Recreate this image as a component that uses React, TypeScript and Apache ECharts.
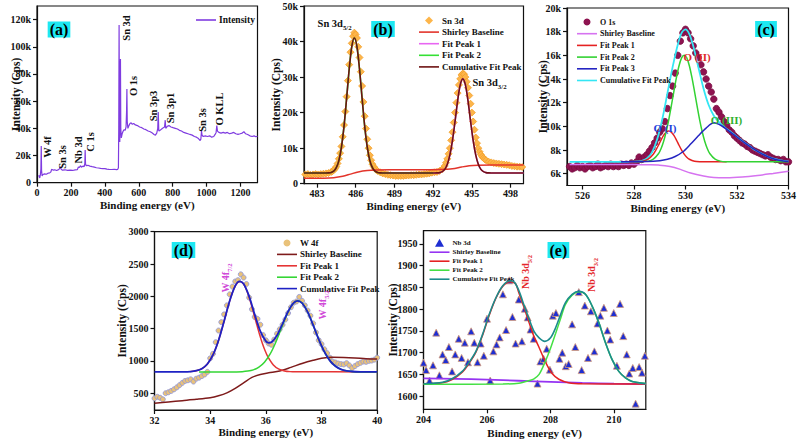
import React, { useEffect, useRef } from "react";
import * as echarts from "echarts";

const SERIF = '"Liberation Serif", "Times New Roman", Times, serif';
const INK = "#111111";

// ---------- (a) survey scan, intensity in kCps ----------
const surveyScan: [number, number][] = [
  [10, 5.5], [16, 3.5], [20, 6], [23, 10], [25, 27], [27, 9], [30, 5], [35, 6], [45, 6.5], [55, 6.2],
  [65, 7], [75, 7.2], [82, 8], [86, 9.8], [95, 9.3], [105, 9.5], [115, 9], [125, 9.4], [132, 10.2],
  [137, 11.8], [142, 10], [150, 9.2], [165, 9.5], [180, 9.1], [195, 9.3], [210, 9.0], [225, 9.4],
  [238, 9.6], [244, 11.5], [250, 11.2], [256, 12.5], [262, 11.4], [270, 12.2], [278, 11.8], [282, 14],
  [284, 24], [286, 14], [290, 12.5], [300, 12.8], [312, 12.2], [325, 11.8], [338, 11.5], [350, 11],
  [362, 10.8], [375, 10.5], [388, 10.3], [400, 10.4], [412, 10], [425, 9.8], [440, 9.7], [455, 9.9],
  [468, 9.6], [476, 9.8], [480, 11], [482, 40], [484, 116], [486, 45], [488, 30], [490, 42], [492, 91],
  [494, 40], [497, 33], [502, 36], [508, 38], [514, 39], [520, 38.5], [525, 41], [528, 52], [530, 69],
  [532, 45], [536, 40], [542, 42], [548, 43.5], [555, 44], [562, 43], [570, 43.5], [580, 42.5],
  [592, 42], [605, 41], [618, 40.5], [630, 39.5], [642, 39], [655, 38], [668, 37.5], [680, 36.5],
  [690, 35.5], [698, 35], [706, 36.5], [712, 40], [715, 52], [718, 38], [725, 38.5], [735, 39.5],
  [745, 40.5], [752, 41], [756, 46], [759, 40], [768, 41.5], [778, 42], [790, 41], [802, 40.5],
  [815, 40], [828, 39.5], [840, 38.5], [852, 38], [865, 37], [878, 36.5], [890, 36], [902, 35.5],
  [915, 35], [928, 34], [940, 33.5], [952, 32.5], [962, 31], [966, 32], [970, 38], [973, 35], [980, 34],
  [992, 34.5], [1005, 34], [1018, 34.5], [1030, 33.5], [1042, 34], [1050, 35.5], [1056, 37], [1060, 42],
  [1064, 38], [1072, 37], [1085, 36.5], [1098, 37], [1110, 36.5], [1122, 37], [1135, 36], [1148, 36.5],
  [1160, 37], [1172, 36], [1185, 35.5], [1198, 36], [1210, 36.5], [1220, 37.5], [1230, 36], [1242, 35.5],
  [1255, 34.5], [1268, 34], [1280, 34.5], [1290, 33.8], [1300, 34.2],
];
const surveyXTicks = [0, 200, 400, 600, 800, 1000, 1200];
const surveyYTicks = [0, 20, 40, 60, 80, 100, 120];

// ---------- (b) Sn 3d, kCps ----------
const sn3dPoints: [number, number][] = [
  [482.1, 2.6], [482.3, 2.7], [482.5, 2.5], [482.7, 2.6], [482.9, 2.7], [483.1, 2.6], [483.3, 2.7],
  [483.5, 2.8], [483.7, 2.9], [483.9, 3.0], [484.1, 3.3], [484.2, 3.5], [484.3, 3.8], [484.4, 4.2],
  [484.5, 4.8], [484.6, 5.7], [484.7, 7.0], [484.8, 8.6], [484.9, 10.5], [485.0, 13.2], [485.1, 16.5],
  [485.2, 20.3], [485.3, 24.5], [485.4, 29.0], [485.5, 33.5], [485.6, 37.0], [485.7, 39.5], [485.8, 41.5],
  [485.9, 42.5], [486.0, 42.0], [486.1, 41.0], [486.2, 38.5], [486.3, 35.5], [486.4, 31.5], [486.5, 27.5],
  [486.6, 23.0], [486.7, 19.0], [486.8, 15.5], [486.9, 12.5], [487.0, 10.0], [487.1, 8.0], [487.2, 6.6],
  [487.3, 5.5], [487.4, 4.8], [487.5, 4.2], [487.6, 3.9], [487.7, 3.6], [487.9, 3.2], [488.1, 2.9],
  [488.3, 2.7], [488.5, 2.5], [488.7, 2.4], [488.9, 2.3], [489.1, 2.2], [489.3, 2.2], [489.5, 2.2],
  [489.7, 2.2], [489.9, 2.3], [490.1, 2.3], [490.3, 2.4], [490.5, 2.4], [490.7, 2.5], [490.9, 2.6],
  [491.1, 2.6], [491.3, 2.7], [491.5, 2.8], [491.7, 2.9], [491.9, 3.1], [492.1, 3.2], [492.3, 3.3],
  [492.5, 3.6], [492.7, 4.0], [492.8, 4.4], [492.9, 5.0], [493.0, 5.9], [493.1, 7.0], [493.2, 8.4],
  [493.3, 10.0], [493.4, 12.2], [493.5, 14.5], [493.6, 17.2], [493.7, 20.0], [493.8, 22.8], [493.9, 25.5],
  [494.0, 27.8], [494.1, 29.5], [494.2, 30.6], [494.3, 31.0], [494.4, 30.8], [494.5, 30.0], [494.6, 28.7],
  [494.7, 27.0], [494.8, 24.8], [494.9, 22.5], [495.0, 20.0], [495.1, 17.5], [495.2, 15.2], [495.3, 13.0],
  [495.4, 11.4], [495.5, 10.0], [495.6, 9.0], [495.7, 8.2], [495.8, 7.6], [495.9, 7.2], [496.0, 6.9],
  [496.1, 6.6], [496.3, 6.2], [496.5, 6.0], [496.7, 5.8], [496.9, 5.7], [497.1, 5.6], [497.3, 5.5],
  [497.5, 5.4], [497.7, 5.3], [497.9, 5.2], [498.1, 5.0], [498.3, 4.9], [498.5, 4.8], [498.7, 4.8],
  [498.9, 4.7],
];
const sn3dShirley: [number, number][] = [
  [482, 1.5], [483.5, 1.55], [484.3, 1.7], [485, 2.1], [485.6, 2.7], [486.2, 3.3], [486.9, 3.7],
  [487.6, 3.85], [489, 3.9], [491, 3.95], [492.5, 4.0], [493.5, 4.2], [494.2, 4.7], [494.8, 5.05],
  [495.5, 5.2], [496.5, 5.25], [499, 5.25],
];
const sn3dPeak1: [number, number][] = [
  [488, 3], [492.1, 3.02], [492.3, 3.04], [492.5, 3.12], [492.7, 3.38], [492.9, 4.03], [493.1, 5.45],
  [493.3, 8.1], [493.5, 12.2], [493.7, 17.6], [493.9, 23.4], [494.1, 27.8], [494.3, 29.5], [494.5, 27.8],
  [494.7, 23.4], [494.9, 17.6], [495.1, 12.2], [495.3, 8.1], [495.5, 5.45], [495.7, 4.03], [495.9, 3.38],
  [496.1, 3.12], [496.3, 3.04], [496.5, 3.02], [499, 3],
];
const sn3dPeak2: [number, number][] = [
  [482, 3], [483.7, 3.02], [483.9, 3.05], [484.1, 3.18], [484.3, 3.55], [484.5, 4.5], [484.7, 6.5],
  [484.9, 10.3], [485.1, 16.2], [485.3, 24.0], [485.5, 32.2], [485.7, 38.6], [485.9, 41.0], [486.1, 38.6],
  [486.3, 32.2], [486.5, 24.0], [486.7, 16.2], [486.9, 10.3], [487.1, 6.5], [487.3, 4.5], [487.5, 3.55],
  [487.7, 3.18], [487.9, 3.05], [488.1, 3.02], [492, 3],
];
const sn3dCumulative: [number, number][] = [
  [482, 3], [483.7, 3.02], [483.9, 3.05], [484.1, 3.18], [484.3, 3.55], [484.5, 4.5], [484.7, 6.5],
  [484.9, 10.3], [485.1, 16.2], [485.3, 24.0], [485.5, 32.2], [485.7, 38.6], [485.9, 41.0], [486.1, 38.6],
  [486.3, 32.2], [486.5, 24.0], [486.7, 16.2], [486.9, 10.3], [487.1, 6.5], [487.3, 4.5], [487.5, 3.55],
  [487.7, 3.18], [487.9, 3.05], [488.1, 3.02], [492.1, 3.02], [492.3, 3.04], [492.5, 3.12], [492.7, 3.38],
  [492.9, 4.03], [493.1, 5.45], [493.3, 8.1], [493.5, 12.2], [493.7, 17.6], [493.9, 23.4], [494.1, 27.8],
  [494.3, 29.5], [494.5, 27.8], [494.7, 23.4], [494.9, 17.6], [495.1, 12.2], [495.3, 8.1], [495.5, 5.45],
  [495.7, 4.03], [495.9, 3.38], [496.1, 3.12], [496.3, 3.04], [496.5, 3.02], [499, 3],
];
const sn3dXTicks = [483, 486, 489, 492, 495, 498];
const sn3dYTicks = [0, 10, 20, 30, 40, 50];

// ---------- (c) O 1s, kCps ----------
const o1sPoints: [number, number][] = [
  [525.5, 6.6], [525.6, 6.4], [525.7, 6.5], [525.8, 6.7], [525.9, 6.5], [526.0, 6.6], [526.1, 6.4],
  [526.2, 6.6], [526.3, 6.7], [526.4, 6.5], [526.5, 6.6], [526.6, 6.8], [526.7, 6.5], [526.8, 6.6],
  [526.9, 6.7], [527.0, 6.6], [527.1, 6.8], [527.2, 6.6], [527.3, 6.7], [527.4, 6.6], [527.5, 6.8],
  [527.6, 6.7], [527.7, 6.8], [527.8, 6.7], [527.9, 6.9], [528.0, 6.8], [528.1, 7.0], [528.2, 7.4],
  [528.3, 7.2], [528.4, 7.4], [528.5, 7.6], [528.6, 7.9], [528.7, 8.2], [528.8, 8.6], [528.9, 9.0],
  [529.0, 9.5], [529.1, 9.8], [529.2, 10.4], [529.3, 11.5], [529.4, 12.6], [529.5, 13.4], [529.6, 14.5],
  [529.7, 16.0], [529.8, 17.2], [529.9, 17.9], [530.0, 18.2], [530.1, 17.9], [530.2, 17.4], [530.3, 16.8],
  [530.4, 16.2], [530.5, 15.8], [530.6, 15.2], [530.7, 14.6], [530.8, 14.0], [530.9, 13.4], [531.0, 12.9],
  [531.1, 12.3], [531.2, 11.5], [531.3, 11.2], [531.4, 10.8], [531.5, 10.4], [531.6, 10.1], [531.7, 9.7],
  [531.8, 9.5], [531.9, 9.2], [532.0, 9.0], [532.1, 8.8], [532.2, 8.6], [532.3, 8.5], [532.4, 8.3],
  [532.5, 8.2], [532.6, 8.0], [532.7, 7.9], [532.8, 7.8], [532.9, 7.7], [533.0, 7.6], [533.1, 7.5],
  [533.2, 7.6], [533.3, 7.4], [533.4, 7.3], [533.5, 7.2], [533.6, 7.2], [533.7, 7.1], [533.8, 7.2],
  [533.9, 7.0], [534.0, 7.0],
];
const o1sShirley: [number, number][] = [
  [525.5, 6.78], [527, 6.78], [528, 6.77], [528.5, 6.75], [529, 6.72], [529.4, 6.6], [529.8, 6.36],
  [530.2, 6.05], [530.7, 5.8], [531.1, 5.68], [531.6, 5.66], [532.2, 5.72], [532.8, 5.85], [533.4, 6.02],
  [534, 6.2],
];
const o1sPeak1: [number, number][] = [
  [527.8, 7.0], [528.15, 7.01], [528.35, 7.05], [528.55, 7.22], [528.75, 7.65], [528.85, 7.99],
  [528.95, 8.4], [529.05, 8.84], [529.15, 9.23], [529.25, 9.5], [529.35, 9.6], [529.45, 9.5],
  [529.55, 9.23], [529.65, 8.84], [529.75, 8.4], [529.85, 7.99], [529.95, 7.65], [530.05, 7.39],
  [530.15, 7.22], [530.35, 7.05], [530.55, 7.01], [531.6, 7.0],
];
const o1sPeak2: [number, number][] = [
  [528.0, 7.0], [528.55, 7.06], [528.75, 7.22], [528.95, 7.68], [529.05, 8.11], [529.15, 8.72],
  [529.25, 9.54], [529.35, 10.55], [529.45, 11.72], [529.55, 12.95], [529.65, 14.13], [529.75, 15.12],
  [529.85, 15.78], [529.95, 16.0], [530.05, 15.78], [530.15, 15.12], [530.25, 14.13], [530.35, 12.95],
  [530.45, 11.72], [530.55, 10.55], [530.65, 9.54], [530.75, 8.72], [530.85, 8.11], [530.95, 7.68],
  [531.15, 7.22], [531.35, 7.06], [531.55, 7.01], [534, 7.0],
];
const o1sPeak3: [number, number][] = [
  [527.5, 7.0], [528.5, 7.02], [529.0, 7.1], [529.3, 7.22], [529.6, 7.45], [529.9, 7.85], [530.2, 8.5],
  [530.5, 9.2], [530.8, 9.85], [531.1, 10.3], [531.4, 10.05], [531.7, 9.58], [532.0, 9.1], [532.3, 8.6],
  [532.6, 8.15], [532.9, 7.75], [533.2, 7.43], [533.5, 7.2], [533.8, 7.07], [534, 7.03],
];
const o1sCumulative: [number, number][] = [
  [525.5, 7.0], [527.5, 7.0], [528.0, 7.02], [528.3, 7.08], [528.5, 7.28], [528.7, 7.8], [528.9, 8.9],
  [529.1, 10.6], [529.3, 12.8], [529.5, 15.0], [529.7, 16.9], [529.85, 17.9], [530.0, 18.2],
  [530.15, 17.8], [530.3, 16.8], [530.5, 15.0], [530.7, 13.2], [530.9, 11.8], [531.1, 10.9],
  [531.3, 10.35], [531.5, 9.95], [531.7, 9.62], [531.9, 9.3], [532.1, 8.95], [532.3, 8.62], [532.5, 8.32],
  [532.7, 8.0], [532.9, 7.77], [533.1, 7.55], [533.3, 7.35], [533.5, 7.22], [533.7, 7.12], [534.0, 7.04],
];
const o1sXTicks = [526, 528, 530, 532, 534];
const o1sYTicks = [6, 8, 10, 12, 14, 16, 18, 20];

// ---------- (d) W 4f, Cps ----------
const w4fPoints: [number, number][] = [
  [32.0, 420], [32.1, 445], [32.2, 430], [32.3, 405], [32.4, 500], [32.5, 515], [32.6, 535], [32.7, 560],
  [32.8, 590], [32.9, 625], [33.0, 660], [33.1, 690], [33.2, 700], [33.3, 715], [33.4, 680], [33.5, 725],
  [33.6, 740], [33.7, 765], [33.8, 790], [33.9, 830], [34.0, 1040], [34.1, 1110], [34.2, 1290],
  [34.3, 1470], [34.4, 1600], [34.5, 1720], [34.6, 1860], [34.7, 2030], [34.8, 2150], [34.9, 2230],
  [35.0, 2250], [35.1, 2340], [35.2, 2290], [35.3, 2190], [35.4, 1980], [35.5, 1800], [35.6, 1680],
  [35.7, 1650], [35.8, 1560], [35.9, 1400], [36.0, 1320], [36.1, 1270], [36.2, 1250], [36.3, 1330],
  [36.4, 1420], [36.5, 1490], [36.6, 1560], [36.7, 1640], [36.8, 1740], [36.9, 1830], [37.0, 1900],
  [37.1, 1920], [37.2, 1990], [37.3, 1930], [37.4, 1860], [37.5, 1780], [37.6, 1700], [37.7, 1580],
  [37.8, 1440], [37.9, 1320], [38.0, 1260], [38.1, 1180], [38.2, 1120], [38.3, 1050], [38.4, 990],
  [38.5, 975], [38.6, 960], [38.7, 950], [38.8, 945], [38.9, 965], [39.0, 930], [39.1, 890], [39.2, 920],
  [39.3, 950], [39.4, 970], [39.5, 990], [39.6, 985], [39.7, 1000], [39.8, 1005], [39.9, 1020], [40.0, 1050],
];
const w4fShirley: [number, number][] = [
  [32, 345], [32.5, 365], [33, 385], [33.5, 405], [34, 430], [34.3, 460], [34.6, 505], [34.9, 575],
  [35.2, 660], [35.5, 745], [35.8, 790], [36.1, 815], [36.5, 845], [36.9, 900], [37.3, 960], [37.7, 1010],
  [38.0, 1040], [38.4, 1055], [38.8, 1052], [39.2, 1045], [39.6, 1035], [40, 1030],
];
const w4fPeak1: [number, number][] = [
  [33.27, 834], [33.47, 845], [33.67, 872], [33.87, 938], [34.07, 1067], [34.17, 1162], [34.27, 1278],
  [34.37, 1415], [34.47, 1568], [34.57, 1727], [34.67, 1883], [34.77, 2023], [34.87, 2133], [34.97, 2205],
  [35.07, 2230], [35.17, 2205], [35.27, 2133], [35.37, 2023], [35.47, 1883], [35.57, 1727], [35.67, 1568],
  [35.77, 1415], [35.87, 1278], [35.97, 1162], [36.07, 1067], [36.27, 938], [36.47, 872], [36.67, 845],
  [36.87, 834], [37.07, 831], [40, 830],
];
const w4fPeak2: [number, number][] = [
  [33.6, 830], [34.75, 830], [35.15, 834], [35.35, 842], [35.55, 861], [35.75, 903], [35.95, 979],
  [36.15, 1104], [36.35, 1282], [36.55, 1498], [36.75, 1711], [36.95, 1871], [37.15, 1930], [37.35, 1871],
  [37.55, 1711], [37.75, 1498], [37.95, 1282], [38.15, 1104], [38.35, 979], [38.55, 903], [38.75, 861],
  [38.95, 842], [39.15, 834], [39.55, 830], [40, 830],
];
const w4fCumulative: [number, number][] = [
  [32, 830], [33.0, 831], [33.3, 835], [33.5, 848], [33.7, 880], [33.9, 952], [34.1, 1092], [34.3, 1317],
  [34.5, 1615], [34.7, 1927], [34.9, 2160], [35.05, 2232], [35.2, 2194], [35.4, 1999], [35.6, 1718],
  [35.8, 1461], [36.0, 1306], [36.1, 1280], [36.2, 1288], [36.4, 1394], [36.6, 1575], [36.8, 1765],
  [37.0, 1898], [37.15, 1930], [37.3, 1896], [37.5, 1758], [37.7, 1553], [37.9, 1334], [38.1, 1144],
  [38.3, 1005], [38.5, 918], [38.7, 869], [38.9, 846], [39.1, 836], [39.4, 831], [40, 830],
];
const w4fXTicks = [32, 34, 36, 38, 40];
const w4fYTicks = [500, 1000, 1500, 2000, 2500, 3000];

// ---------- (e) Nb 3d, Cps ----------
const nb3dPoints: [number, number][] = [
  [204.0, 1677], [204.08, 1660], [204.19, 1636], [204.3, 1671], [204.4, 1746], [204.5, 1648],
  [204.6, 1696], [204.7, 1683], [204.8, 1713], [204.9, 1657], [205.0, 1696], [205.11, 1732],
  [205.2, 1688], [205.3, 1723], [205.4, 1678], [205.5, 1749], [205.6, 1723], [205.7, 1678],
  [205.8, 1721], [205.9, 1693], [206.0, 1778], [206.1, 1636], [206.2, 1703], [206.3, 1719],
  [206.4, 1735], [206.5, 1834], [206.6, 1752], [206.7, 1866], [206.8, 1782], [206.9, 1721],
  [207.0, 1822], [207.1, 1726], [207.19, 1801], [207.28, 1781], [207.37, 1753], [207.47, 1732],
  [207.59, 1629], [207.68, 1680], [207.78, 1686], [207.88, 1709], [207.98, 1661], [208.07, 1785],
  [208.17, 1791], [208.28, 1686], [208.37, 1700], [208.48, 1669], [208.57, 1674], [208.68, 1765],
  [208.78, 1713], [208.89, 1839], [208.98, 1660], [209.08, 1808], [209.18, 1688], [209.27, 1795],
  [209.38, 1703], [209.48, 1767], [209.57, 1785], [209.68, 1803], [209.79, 1751], [209.88, 1730],
  [209.99, 1791], [210.09, 1670], [210.19, 1812], [210.29, 1738], [210.4, 1696], [210.48, 1652],
  [210.59, 1665], [210.68, 1583], [210.79, 1667], [210.88, 1654], [210.97, 1693],
];
const nb3dShirley: [number, number][] = [
  [204, 1641], [205, 1640], [206, 1638], [207, 1635.5], [208, 1633], [209, 1630.5], [210, 1629], [211, 1628],
];
const nb3dPeak1: [number, number][] = [
  [204, 1628], [204.6, 1631], [204.9, 1638], [205.22, 1655], [205.43, 1675], [205.65, 1701],
  [205.86, 1740], [206.07, 1786], [206.28, 1825], [206.49, 1852], [206.72, 1863], [206.9, 1858],
  [207.0, 1838], [207.17, 1803], [207.33, 1768], [207.48, 1737], [207.64, 1712], [207.85, 1677],
  [208.05, 1652], [208.26, 1639], [208.57, 1631], [209, 1628.5], [211, 1628],
];
const nb3dPeak2: [number, number][] = [
  [204, 1627.5], [206.5, 1628], [207.0, 1630], [207.33, 1636], [207.48, 1640], [207.64, 1650],
  [207.82, 1677], [208.0, 1710], [208.16, 1744], [208.32, 1779], [208.47, 1811], [208.68, 1832],
  [208.89, 1840], [209.1, 1834], [209.31, 1807], [209.52, 1769], [209.73, 1723], [209.94, 1684],
  [210.15, 1657], [210.36, 1642], [210.57, 1634], [211, 1629],
];
const nb3dCumulative: [number, number][] = [
  [204, 1628.5], [204.6, 1632], [204.9, 1640], [205.22, 1657], [205.43, 1677], [205.65, 1703],
  [205.86, 1742], [206.07, 1788], [206.28, 1826], [206.49, 1853], [206.72, 1865], [206.86, 1862],
  [207.0, 1843], [207.17, 1808], [207.33, 1776], [207.48, 1749], [207.64, 1734], [207.82, 1726],
  [208.0, 1734], [208.16, 1757], [208.32, 1788], [208.47, 1815], [208.68, 1834], [208.89, 1841],
  [209.1, 1834], [209.31, 1807], [209.52, 1769], [209.73, 1723], [209.94, 1684], [210.15, 1657],
  [210.36, 1642], [210.57, 1634], [211, 1629],
];
const nb3dXTicks = [204, 206, 208, 210];
const nb3dYTicks = [1600, 1650, 1700, 1750, 1800, 1850, 1900, 1950];

// ---------- helpers ----------
const kLabel = (v: number) => (v === 0 ? "0" : `${v}k`);
const plainLabel = (v: number) => `${v}`;
const legendText = (name: string) => name.split("@")[0];

// Legend glyphs drawn in a 20x8 box: a thin bar for fitted curves, small centred markers for measured points
const ICON_LINE = "path://M0,3.2 H20 V4.8 H0 Z";
const ICON_DIAMOND = "path://M0,4 M20,4 M10,0 L14,4 L10,8 L6,4 Z";
const ICON_CIRCLE = "path://M0,4 M20,4 M10,0.5 A3.5,3.5 0 1,1 9.99,0.5 Z";
const ICON_TRIANGLE = "path://M0,4 M20,4 M10,0 L14.5,8 L5.5,8 Z";

const axisText = { fontFamily: SERIF, fontWeight: "bold" as const, color: INK };

function xAxis(i: number, min: number, max: number, ticks: number[], nameGap: number) {
  return {
    type: "value", gridIndex: i, min, max,
    name: "Binding energy (eV)", nameLocation: "middle", nameGap, nameMoveOverlap: false,
    nameTextStyle: { ...axisText, fontSize: 11 },
    axisLine: { show: true, onZero: false, lineStyle: { color: INK, width: 1.2 } },
    axisTick: { show: true, inside: false, length: 4, customValues: ticks, lineStyle: { color: INK, width: 1.2 } },
    axisLabel: { customValues: ticks, ...axisText, fontSize: 10, margin: 5, formatter: plainLabel },
    splitLine: { show: false },
  };
}

function yAxis(i: number, min: number, max: number, ticks: number[], fmt: (v: number) => string, nameGap: number) {
  return {
    type: "value", gridIndex: i, min, max,
    name: "Intensity (Cps)", nameLocation: "middle", nameGap, nameMoveOverlap: false,
    nameTextStyle: { ...axisText, fontSize: 11.5 },
    axisLine: { show: true, onZero: false, lineStyle: { color: INK, width: 1.2 } },
    axisTick: { show: true, inside: false, length: 4, customValues: ticks, lineStyle: { color: INK, width: 1.2 } },
    axisLabel: { customValues: ticks, ...axisText, fontSize: 10, margin: 6, formatter: fmt },
    splitLine: { show: false },
  };
}

function line(name: string, data: [number, number][], color: string, width: number, i: number, z: number, smooth: number | boolean = 0.3) {
  return {
    type: "line", name, data, xAxisIndex: i, yAxisIndex: i, symbol: "none", smooth,
    lineStyle: { color, width }, itemStyle: { color }, z, silent: true,
  };
}

function dots(name: string, data: [number, number][], symbol: string, size: number, color: string, border: string, i: number) {
  return {
    type: "scatter", name, data, xAxisIndex: i, yAxisIndex: i, symbol, symbolSize: size,
    itemStyle: { color, borderColor: border, borderWidth: 0.8, opacity: 1 }, z: 2, silent: true,
  };
}

function legend(items: { name: string; icon: string }[], left: number, top: number, fontSize: number, itemGap: number) {
  return {
    orient: "vertical", left, top, itemWidth: 20, itemHeight: 8, itemGap,
    selectedMode: false, data: items, formatter: legendText,
    itemStyle: { borderWidth: 0 },
    textStyle: { ...axisText, fontSize, padding: [0, 0, 0, -2] },
  };
}

function tag(text: string, x: number, y: number) {
  return {
    type: "text", x, y, z: 50,
    style: {
      text, fontFamily: SERIF, fontWeight: "bold", fontSize: 16, fill: "#000",
      backgroundColor: "#1EE8F2", padding: [0, 2, 0, 2], align: "center", verticalAlign: "middle",
    },
  };
}

function note(text: string, x: number, y: number, size: number, color: string, rotate = false) {
  return {
    type: "text", x, y, z: 50, rotation: rotate ? Math.PI / 2 : 0,
    style: { text, fontFamily: SERIF, fontWeight: "bold", fontSize: size, fill: color, align: "center", verticalAlign: "middle" },
  };
}

function subNote(main: string, sub: string, x: number, y: number, size: number, color: string, rotate = false) {
  return {
    type: "text", x, y, z: 50, rotation: rotate ? Math.PI / 2 : 0,
    style: {
      text: `{m|${main}}{s|${sub}}`, align: "center", verticalAlign: "middle",
      rich: {
        m: { fontFamily: SERIF, fontWeight: "bold", fontSize: size, fill: color, lineHeight: size + 6 },
        s: { fontFamily: SERIF, fontWeight: "bold", fontSize: size * 0.65, fill: color, lineHeight: 8, verticalAlign: "bottom" },
      },
    },
  };
}

const fitItems = (panel: string, fits: string[], dataName: string, dataIcon: string) => [
  { name: `${dataName}@${panel}`, icon: dataIcon },
  ...fits.map((f) => ({ name: `${f}@${panel}`, icon: ICON_LINE })),
];

function buildOption() {
  const grids = [
    { left: 37, top: 6, width: 220.5, height: 176.7 },
    { left: 304, top: 6, width: 219.5, height: 177.7 },
    { left: 567, top: 8, width: 223, height: 177.5 },
    { left: 154.5, top: 231.7, width: 222.7, height: 178.3 },
    { left: 423.5, top: 230.7, width: 222.3, height: 178.6 },
  ].map((g) => ({ ...g, show: true, borderColor: INK, borderWidth: 1.2, containLabel: false }));

  const xAxes = [
    xAxis(0, 0, 1300, surveyXTicks, 16.5),
    xAxis(1, 482, 499, sn3dXTicks, 16.5),
    xAxis(2, 525.4, 534, o1sXTicks, 16.5),
    xAxis(3, 32, 40, w4fXTicks, 16.5),
    xAxis(4, 204, 211, nb3dXTicks, 18.5),
  ];
  const yAxes = [
    yAxis(0, 0, 130, surveyYTicks, kLabel, 15),
    yAxis(1, 0, 50, sn3dYTicks, kLabel, 22),
    yAxis(2, 5.0, 20, o1sYTicks, kLabel, 18),
    yAxis(3, 240, 3000, w4fYTicks, plainLabel, 26.5),
    yAxis(4, 1570, 1980, nb3dYTicks, plainLabel, 25),
  ];

  const series = [
    line("Intensity@a", surveyScan, "#7F3CE0", 1.2, 0, 3, false),

    dots("Sn 3d@b", sn3dPoints, "diamond", 7, "#FDB54A", "#F2A02A", 1),
    line("Shirley Baseline@b", sn3dShirley, "#E3342B", 1.5, 1, 4),
    line("Fit Peak 1@b", sn3dPeak1, "#E866F2", 1.6, 1, 3),
    line("Fit Peak 2@b", sn3dPeak2, "#35E035", 1.6, 1, 3),
    line("Cumulative Fit Peak@b", sn3dCumulative, "#6E1212", 1.6, 1, 5),

    dots("O 1s@c", o1sPoints, "circle", 6.5, "#8E1350", "#7A0E42", 2),
    line("Shirley Baseline@c", o1sShirley, "#D673F0", 1.5, 2, 4),
    line("Fit Peak 1@c", o1sPeak1, "#E52222", 1.5, 2, 4),
    line("Fit Peak 2@c", o1sPeak2, "#33D233", 1.5, 2, 4),
    line("Fit Peak 3@c", o1sPeak3, "#2525C2", 1.5, 2, 4),
    line("Cumulative Fit Peak@c", o1sCumulative, "#34E6F4", 1.8, 2, 3),

    dots("W 4f@d", w4fPoints, "circle", 5, "#E9C27A", "#8E96DA", 3),
    line("Shirley Baseline@d", w4fShirley, "#7E1B1B", 1.5, 3, 4),
    line("Fit Peak 1@d", w4fPeak1, "#E53535", 1.5, 3, 4),
    line("Fit Peak 2@d", w4fPeak2, "#35D635", 1.5, 3, 4),
    line("Cumulative Fit Peak@d", w4fCumulative, "#1E22C4", 1.8, 3, 5),

    dots("Nb 3d@e", nb3dPoints, "triangle", 7, "#1E2ED2", "#D49A7A", 4),
    line("Shirley Baseline@e", nb3dShirley, "#9634F2", 1.8, 4, 4),
    line("Fit Peak 1@e", nb3dPeak1, "#E52222", 1.5, 4, 4),
    line("Fit Peak 2@e", nb3dPeak2, "#44E044", 1.5, 4, 4),
    line("Cumulative Fit Peak@e", nb3dCumulative, "#1C8C8C", 1.6, 4, 5),
  ];

  const legends = [
    legend([{ name: "Intensity@a", icon: ICON_LINE }], 191, 10, 9.5, 2),
    legend(fitItems("b", ["Shirley Baseline", "Fit Peak 1", "Fit Peak 2", "Cumulative Fit Peak"], "Sn 3d", ICON_DIAMOND), 414, 11, 9, 2.6),
    legend(fitItems("c", ["Shirley Baseline", "Fit Peak 1", "Fit Peak 2", "Fit Peak 3", "Cumulative Fit Peak"], "O 1s", ICON_CIRCLE), 572, 13, 8, 3.7),
    legend(fitItems("d", ["Shirley Baseline", "Fit Peak 1", "Fit Peak 2", "Cumulative Fit Peak"], "W 4f", ICON_CIRCLE), 272, 233.5, 9, 2.4),
    legend(fitItems("e", ["Shirley Baseline", "Fit Peak 1", "Fit Peak 2", "Cumulative Fit Peak"], "Nb 3d", ICON_TRIANGLE), 424.5, 233.7, 7, 2),
  ];

  const graphic = [
    tag("(a)", 59, 29.5),
    tag("(b)", 383, 29),
    tag("(c)", 766, 29),
    tag("(d)", 183.5, 250),
    tag("(e)", 558.4, 250),

    note("W 4f", 47, 147, 10.5, INK, true),
    note("Sn 3s", 62, 157, 10.5, INK, true),
    note("Nb 3d", 78, 150, 10.5, INK, true),
    note("C 1s", 90.5, 142, 10.5, INK, true),
    note("Sn 3d", 126.5, 28, 10.5, INK, true),
    note("O 1s", 133.5, 86, 10.5, INK, true),
    note("Sn 3p3", 153, 106, 10.5, INK, true),
    note("Sn 3p1", 170, 108, 10.5, INK, true),
    note("Sn 3s", 202, 120, 10.5, INK, true),
    note("O KLL", 219.5, 109, 10.5, INK, true),

    subNote("Sn 3d", "5/2", 334.6, 23, 10.5, INK),
    subNote("Sn 3d", "3/2", 489.5, 82, 10.5, INK),

    note("O (I)", 665, 128, 11, "#2440DC"),
    note("O (II)", 697, 57, 11, "#E02A2A"),
    note("O (III)", 726.5, 119.5, 11, "#2FB02F"),

    subNote("W 4f", "7/2", 225, 278, 10, "#D04AD8", true),
    subNote("W 4f", "5/2", 322, 305, 10, "#D04AD8", true),

    subNote("Nb 3d", "5/2", 525, 272, 10, "#E4262A", true),
    subNote("Nb 3d", "3/2", 591, 275, 10, "#E4262A", true),
  ];

  return {
    animation: false,
    backgroundColor: "#ffffff",
    textStyle: { fontFamily: SERIF },
    grid: grids,
    xAxis: xAxes,
    yAxis: yAxes,
    legend: legends,
    series,
    graphic,
  };
}

export default function App() {
  const ref = useRef<HTMLDivElement>(null);
  useEffect(() => {
    document.body.style.margin = "0";
    const chart = echarts.init(ref.current!, undefined, { renderer: "svg" });
    chart.setOption(buildOption() as any);
    return () => chart.dispose();
  }, []);
  return <div ref={ref} style={{ width: 799, height: 440 }} />;
}
